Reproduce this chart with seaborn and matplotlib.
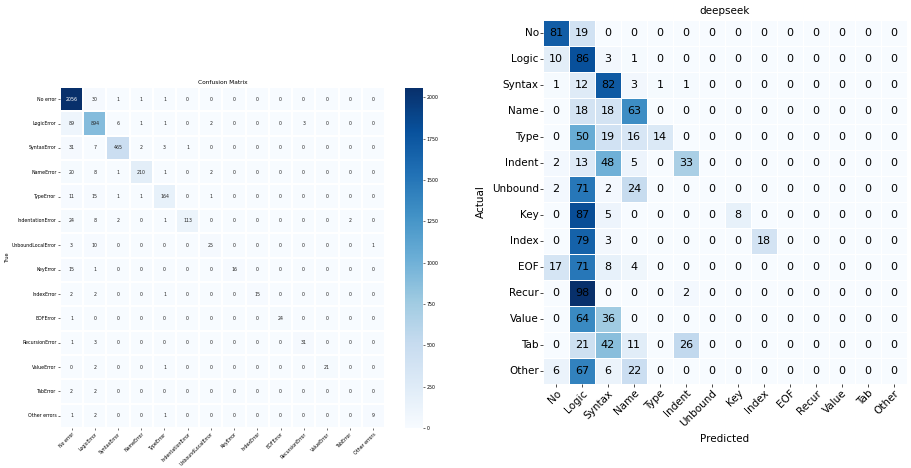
import matplotlib

matplotlib.use("Agg")

import matplotlib.pyplot as plt
import numpy as np
import pandas as pd
import seaborn as sns

# Left panel: raw confusion counts
FULL_LABELS = [
    "No error", "LogicError", "SyntaxError", "NameError", "TypeError",
    "IndentationError", "UnboundLocalError", "KeyError", "IndexError",
    "EOFError", "RecursionError", "ValueError", "TabError", "Other errors",
]
COUNTS = [
    [2056, 30, 1, 1, 1, 0, 0, 0, 0, 0, 0, 0, 0, 0],
    [89, 894, 6, 1, 1, 0, 2, 0, 0, 0, 3, 0, 0, 0],
    [31, 7, 465, 2, 3, 1, 0, 0, 0, 0, 0, 0, 0, 0],
    [20, 8, 1, 210, 1, 0, 2, 0, 0, 0, 0, 0, 0, 0],
    [11, 15, 1, 1, 164, 0, 1, 0, 0, 0, 0, 0, 0, 0],
    [24, 8, 2, 0, 1, 113, 0, 0, 0, 0, 0, 0, 2, 0],
    [3, 10, 0, 0, 0, 0, 25, 0, 0, 0, 0, 0, 0, 1],
    [15, 1, 0, 0, 0, 0, 0, 16, 0, 0, 0, 0, 0, 0],
    [2, 2, 0, 0, 1, 0, 0, 0, 15, 0, 0, 0, 0, 0],
    [1, 0, 0, 0, 0, 0, 0, 0, 0, 24, 0, 0, 0, 0],
    [1, 3, 0, 0, 0, 0, 0, 0, 0, 0, 31, 0, 0, 0],
    [0, 2, 0, 0, 1, 0, 0, 0, 0, 0, 0, 21, 0, 0],
    [2, 2, 0, 0, 0, 0, 0, 0, 0, 0, 0, 0, 0, 0],
    [1, 2, 0, 0, 1, 0, 0, 0, 0, 0, 0, 0, 0, 9],
]

# Right panel: deepseek, row percentages
SHORT_LABELS = [
    "No", "Logic", "Syntax", "Name", "Type", "Indent", "Unbound",
    "Key", "Index", "EOF", "Recur", "Value", "Tab", "Other",
]
PERCENTS = [
    [81, 19, 0, 0, 0, 0, 0, 0, 0, 0, 0, 0, 0, 0],
    [10, 86, 3, 1, 0, 0, 0, 0, 0, 0, 0, 0, 0, 0],
    [1, 12, 82, 3, 1, 1, 0, 0, 0, 0, 0, 0, 0, 0],
    [0, 18, 18, 63, 0, 0, 0, 0, 0, 0, 0, 0, 0, 0],
    [0, 50, 19, 16, 14, 0, 0, 0, 0, 0, 0, 0, 0, 0],
    [2, 13, 48, 5, 0, 33, 0, 0, 0, 0, 0, 0, 0, 0],
    [2, 71, 2, 24, 0, 0, 0, 0, 0, 0, 0, 0, 0, 0],
    [0, 87, 5, 0, 0, 0, 0, 8, 0, 0, 0, 0, 0, 0],
    [0, 79, 3, 0, 0, 0, 0, 0, 18, 0, 0, 0, 0, 0],
    [17, 71, 8, 4, 0, 0, 0, 0, 0, 0, 0, 0, 0, 0],
    [0, 98, 0, 0, 0, 2, 0, 0, 0, 0, 0, 0, 0, 0],
    [0, 64, 36, 0, 0, 0, 0, 0, 0, 0, 0, 0, 0, 0],
    [0, 21, 42, 11, 0, 26, 0, 0, 0, 0, 0, 0, 0, 0],
    [6, 67, 6, 22, 0, 0, 0, 0, 0, 0, 0, 0, 0, 0],
]

counts_df = pd.DataFrame(COUNTS, index=FULL_LABELS, columns=FULL_LABELS)
pct_df = pd.DataFrame(PERCENTS, index=SHORT_LABELS, columns=SHORT_LABELS)

W, H = 911, 468
fig = plt.figure(figsize=(W / 100, H / 100), dpi=100)


def box(x0, y0, x1, y1):
    """Caja en pixeles -> rect en fraccion de figura."""
    return [x0 / W, 1 - y1 / H, (x1 - x0) / W, (y1 - y0) / H]


# %%
# Left heatmap
ax_l = fig.add_axes(box(60, 87, 385, 428))
cax = fig.add_axes(box(405, 88, 423, 428))
sns.heatmap(
    counts_df,
    annot=True,
    fmt="d",
    cmap="Blues",
    linewidths=0.15,
    linecolor="white",
    annot_kws={"fontsize": 3.4},
    ax=ax_l,
    cbar_ax=cax,
)
ax_l.set_title("Confusion Matrix", fontsize=4.2, pad=2)
ax_l.set_ylabel("True", fontsize=3.6)
ax_l.yaxis.set_label_coords(-0.155, 0.5)
ax_l.set_xlabel("")
ax_l.set_xticklabels(FULL_LABELS, rotation=45, ha="right", rotation_mode="anchor")
ax_l.set_yticklabels(FULL_LABELS, rotation=0)
ax_l.tick_params(labelsize=3.4, length=1.5, width=0.4, pad=1)
cax.tick_params(labelsize=3.4, length=1.5, width=0.4, pad=1)
cax.set_yticks(np.arange(0, 2001, 250))
for spine in cax.spines.values():
    spine.set_visible(False)

# %%
# Right heatmap
ax_r = fig.add_axes(box(543, 20, 907, 384))
sns.heatmap(
    pct_df,
    annot=True,
    fmt="d",
    cmap="Blues",
    linewidths=0.5,
    linecolor="white",
    cbar=False,
    annot_kws={"fontsize": 8, "color": "black"},
    ax=ax_r,
)
ax_r.set_title("deepseek", fontsize=7.5, pad=4)
ax_r.set_xlabel("Predicted", fontsize=7.5)
ax_r.set_ylabel("Actual", fontsize=7.5)
ax_r.set_xticklabels(SHORT_LABELS, rotation=45, ha="right", rotation_mode="anchor")
ax_r.set_yticklabels(SHORT_LABELS, rotation=0)
ax_r.tick_params(labelsize=7.5, length=2, width=0.5, pad=1)

fig.savefig("out.png", dpi=100)
